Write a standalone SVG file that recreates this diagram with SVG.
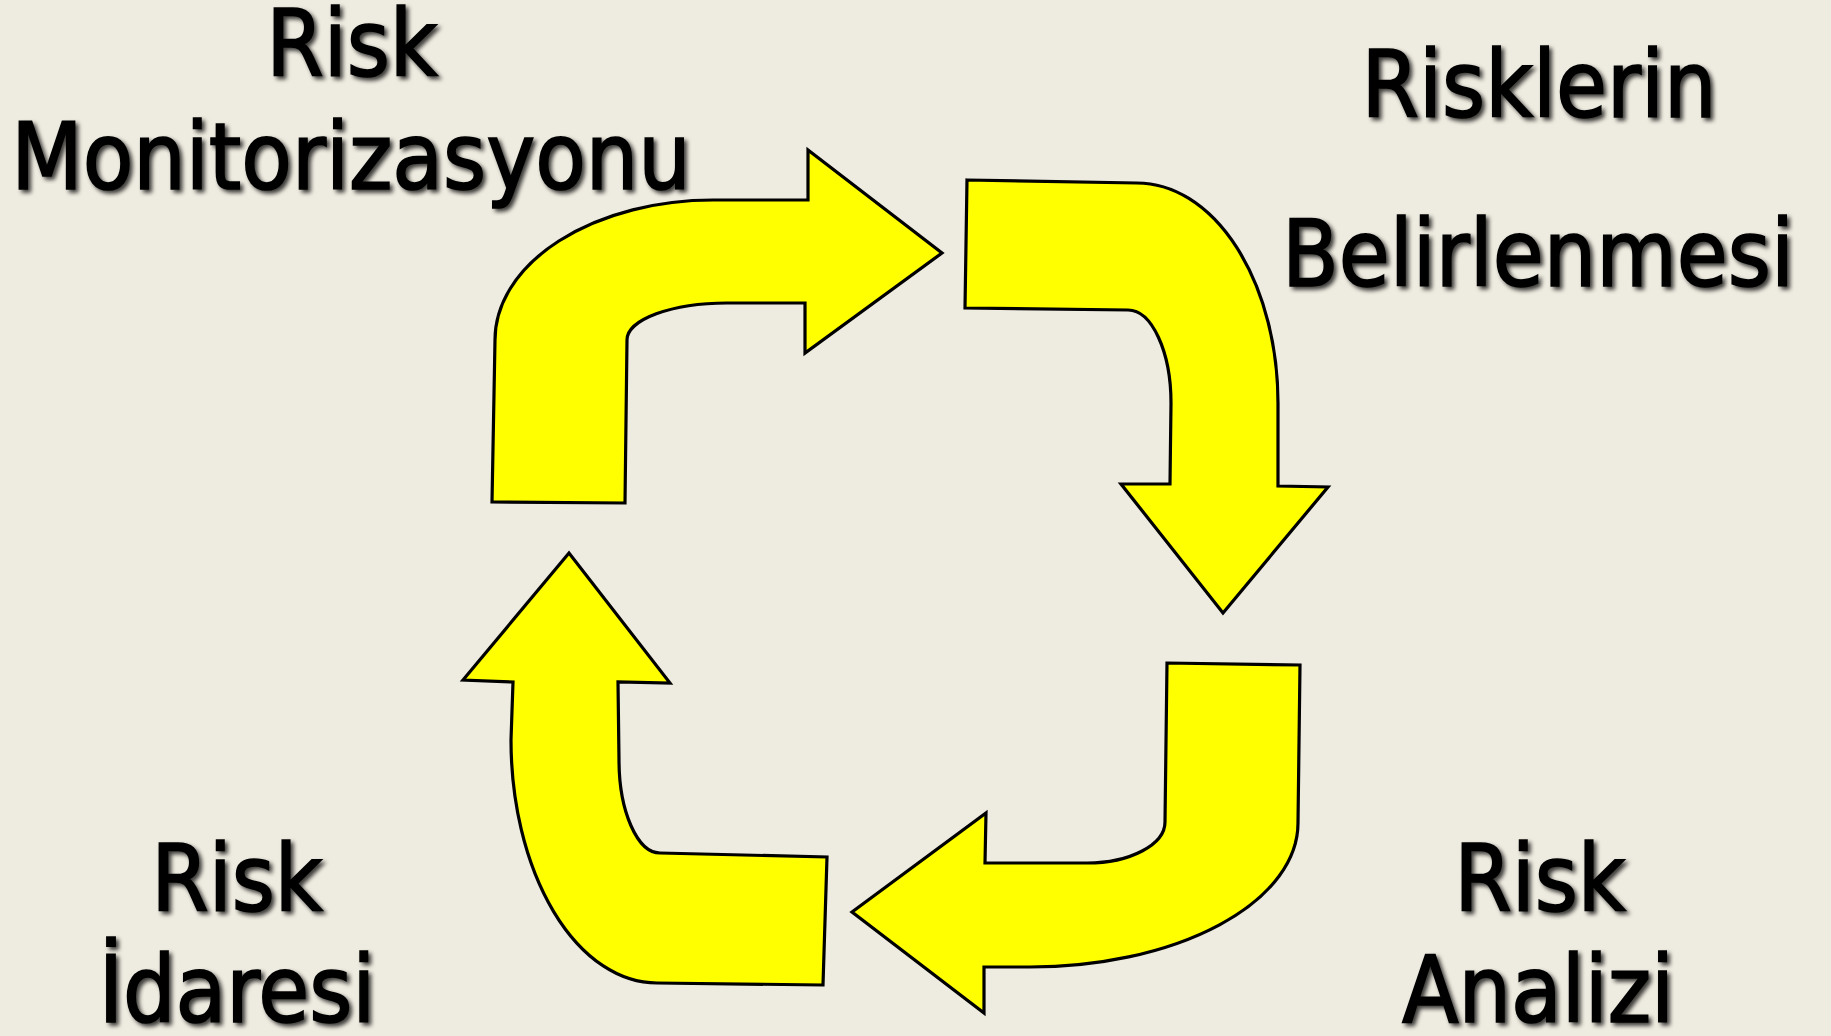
<svg xmlns="http://www.w3.org/2000/svg" width="1831" height="1036" viewBox="0 0 1831 1036">
<defs>
<style>
.lbl{font-family:"DejaVu Sans Condensed","DejaVu Sans",sans-serif;font-size:92px;fill:#000;stroke:#000;stroke-width:1.6;text-anchor:middle;filter:url(#sh)}
.arr{fill:#FFFF00;stroke:#000;stroke-width:3.2;stroke-linejoin:miter}
</style>
<filter id="sh" x="-10%" y="-10%" width="130%" height="140%">
<feDropShadow dx="3" dy="3" stdDeviation="2" flood-color="#000" flood-opacity="0.75"/>
</filter>
</defs>
<rect width="1831" height="1036" fill="#EEEBE0"/>
<g id="connectors">
<path class="arr" d="M 492,502 L 495,340 A 218,140 0 0 1 713,200 L 808,200 L 808,150 L 942,253 L 805,353 L 805,303 L 727,303 A 100,37 0 0 0 627,340 L 625,503 Z"/>
<path class="arr" d="M 967,180 L 1137,183 A 141,220 0 0 1 1278,403 L 1278,486 L 1328,487 L 1223,613 L 1121,484 L 1170,484 L 1171,403 A 43,93 0 0 0 1128,310 L 965,308 Z"/>
<path class="arr" d="M 1167,663 L 1300,665 L 1298,823 A 268,144 0 0 1 1030,967 L 984,967 L 984,1013 L 852,912 L 986,813 L 985,863 L 1087,863 A 78,41 0 0 0 1165,822 Z"/>
<path class="arr" d="M 823,985 L 657,983 A 146,243 0 0 1 511,740 L 513,682 L 463,680 L 569,553 L 670,683 L 618,682 L 619,760 A 41,93 0 0 0 660,853 L 827,857 Z"/>
</g>
<g id="node-monitorizasyon">
<text class="lbl" x="352" y="76">Risk</text>
<text class="lbl" x="351" y="189">Monitorizasyonu</text>
</g>
<g id="node-belirlenmesi">
<text class="lbl" x="1539" y="117">Risklerin</text>
<text class="lbl" x="1538" y="286">Belirlenmesi</text>
</g>
<g id="node-idaresi">
<text class="lbl" x="237" y="911">Risk</text>
<text class="lbl" x="237" y="1022">İdaresi</text>
</g>
<g id="node-analizi">
<text class="lbl" x="1540" y="911">Risk</text>
<text class="lbl" x="1538" y="1022">Analizi</text>
</g>
</svg>
